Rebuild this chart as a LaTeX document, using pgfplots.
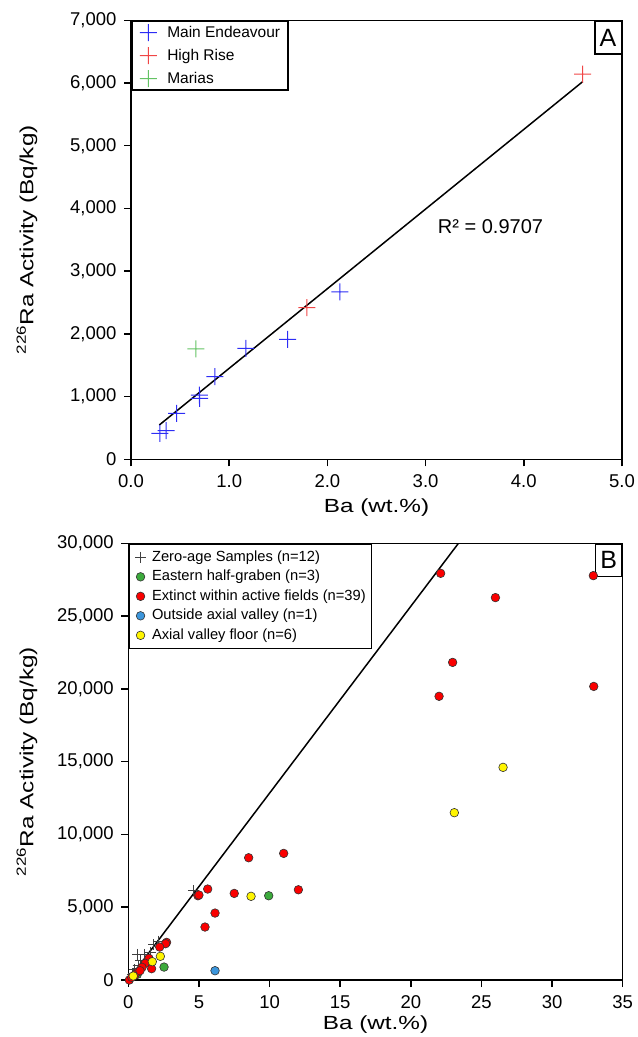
\documentclass[border=0pt]{standalone}
\usepackage{pgfplots}
\pgfplotsset{compat=1.18}
\usepackage{fontspec}
\setmainfont{Liberation Sans}

\definecolor{meblue}{RGB}{45,45,245}
\definecolor{hrred}{RGB}{240,70,70}
\definecolor{margreen}{RGB}{100,195,100}
\definecolor{egreen}{RGB}{60,170,60}
\definecolor{exred}{RGB}{250,0,0}
\definecolor{oblue}{RGB}{60,150,220}
\definecolor{ayellow}{RGB}{255,245,0}

% a plus sign built from two filled bars (strokes lose their colour here)
\pgfdeclareplotmark{fplus}{%
  \pgfpathrectangle{\pgfpoint{-\pgfplotmarksize}{-0.5bp}}{\pgfpoint{2\pgfplotmarksize}{1bp}}%
  \pgfpathrectangle{\pgfpoint{-0.5bp}{-\pgfplotmarksize}}{\pgfpoint{1bp}{2\pgfplotmarksize}}%
  \pgfusepathqfill}

\pgfplotsset{
  panel/.style={
    scale only axis, anchor=south west,
    tick align=outside, tick pos=left, major tick length=7bp,
    axis line style={line width=1.5bp},
    every tick/.style={black, line width=1.5bp},
    tick label style={font=\fontsize{18.5bp}{22bp}\selectfont},
    yticklabel style={xshift=-4bp},
    xticklabel style={yshift=-5bp},
    /pgf/number format/assume math mode=true,
    /pgf/number format/1000 sep={,},
    scaled ticks=false,
    legend cell align=left,
  },
  cross/.style={only marks, mark=fplus, mark size=8.5bp, color=#1,
    mark options={fill=#1, draw=none}},
}

\begin{document}
\begin{tikzpicture}[x=1bp,y=1bp]
\path[use as bounding box] (0,0) rectangle (638,-1037);

% ---- panel A
\begin{axis}[panel, at={(131bp,-459.3bp)}, width=491bp, height=439bp,
  xmin=0, xmax=5, ymin=0, ymax=7000,
  xtick={0,1,...,5}, ytick={0,1000,...,7000},
  xticklabel style={/pgf/number format/.cd, fixed, fixed zerofill, precision=1},
  xlabel={\scalebox{1.28}[1]{Ba (wt.\%)}},
  ylabel={\scalebox{1.28}[1]{\textsuperscript{226}Ra Activity (Bq/kg)}},
  every axis x label/.style={at={(axis description cs:0.5,-0.109)}, anchor=center,
    font=\fontsize{19bp}{23bp}\selectfont},
  every axis y label/.style={at={(axis description cs:-0.2118,0.5)}, rotate=90, anchor=center,
    font=\fontsize{19bp}{23bp}\selectfont},
  legend image code/.code={\draw[mark repeat=2,mark phase=2,#1]
    plot coordinates {(0bp,0bp) (8.5bp,0bp) (17bp,0bp)};},
  legend style={at={(0,1)}, anchor=north west, draw=black, line width=1.5bp,
    font=\fontsize{15.5bp}{18bp}\selectfont, inner xsep=8bp, inner ysep=3bp,
    nodes={inner sep=0pt, text height=13bp, text depth=3bp},
    row sep=6bp, /tikz/every odd column/.append style={column sep=10.5bp}},
]
\addplot[black, line width=1.5bp, forget plot] coordinates {(0.288,547) (4.60,6022)};
\addplot[cross=meblue] coordinates {
(0.295,415) (0.357,456) (0.465,733) (0.695,1025) (0.70,972) (0.855,1318)
(1.17,1770) (1.595,1913) (2.127,2668)};
\addplot[cross=hrred] coordinates {
(1.79,2418) (4.60,6140)};
\addplot[cross=margreen] coordinates {
(0.66,1760)};
\legend{Main Endeavour, High Rise, Marias}
\node[anchor=west, font=\fontsize{20bp}{24bp}\selectfont] at (axis cs:3.09,3710) {R² = 0.9707};
\node[draw, fill=white, line width=1.5bp, anchor=north east, inner sep=0pt,
  minimum width=26.5bp, minimum height=33bp, font=\fontsize{25bp}{30bp}\selectfont]
  at (rel axis cs:1,1) {A};
\end{axis}

% ---- panel B
\begin{axis}[panel, at={(128.3bp,-980bp)}, width=494.4bp, height=436.7bp,
  xmin=0, xmax=35, ymin=0, ymax=30000,
  xtick={0,5,...,35}, ytick={0,5000,...,30000},
  xlabel={\scalebox{1.28}[1]{Ba (wt.\%)}},
  ylabel={\scalebox{1.28}[1]{\textsuperscript{226}Ra Activity (Bq/kg)}},
  every axis x label/.style={at={(axis description cs:0.5,-0.103)}, anchor=center,
    font=\fontsize{19bp}{23bp}\selectfont},
  every axis y label/.style={at={(axis description cs:-0.2049,0.5)}, rotate=90, anchor=center,
    font=\fontsize{19bp}{23bp}\selectfont},
  legend image code/.code={\draw[mark repeat=2,mark phase=2,#1]
    plot coordinates {(0bp,0bp) (6bp,0bp) (12bp,0bp)};},
  legend style={at={(0,1)}, anchor=north west, draw=black, line width=1.5bp,
    font=\fontsize{14.7bp}{17bp}\selectfont, inner xsep=6bp, inner ysep=6bp,
    nodes={inner sep=0pt, text height=11bp, text depth=3.5bp},
    row sep=5bp, /tikz/every odd column/.append style={column sep=6bp}},
]
\addplot[black, line width=1.5bp, forget plot] coordinates {(0,0) (23.37,30000)};
\addplot[only marks, mark=+, mark size=5.5bp, black!75, mark options={line width=0.8bp}] coordinates {
(0.295,415) (0.357,456) (0.465,733) (0.695,1025) (0.70,972) (0.855,1318)
(1.17,1770) (1.595,1913) (2.127,2668) (1.79,2418) (4.60,6140) (0.66,1760)};
\addplot[only marks, mark=*, mark size=4.3bp, mark options={fill=egreen, draw=black!80, line width=0.6bp}] coordinates {
(9.94,5790) (2.53,890) (0.64,390)};
\addplot[only marks, mark=*, mark size=4.3bp, mark options={fill=exred, draw=black!80, line width=0.6bp}] coordinates {
(22.11,27940) (32.92,27780) (25.99,26270) (22.96,21820) (22.0,19490) (32.95,20170)
(8.52,8400) (11.0,8700) (5.62,6250) (4.93,5790) (5.0,5840) (7.5,5950) (12.04,6200)
(6.14,4600) (5.43,3640)
(2.71,2588) (2.64,2496) (2.22,2267) (1.46,1488) (1.20,1145) (0.97,870) (1.65,779)
(0.71,573) (0.47,344) (0.07,0) (0.83,641) (0.24,183)};
\addplot[only marks, mark=*, mark size=4.3bp, mark options={fill=oblue, draw=black!80, line width=0.6bp}] coordinates {
(6.14,640)};
\addplot[only marks, mark=*, mark size=4.3bp, mark options={fill=ayellow, draw=black!80, line width=0.6bp}] coordinates {
(26.53,14610) (23.08,11495) (8.69,5750) (2.27,1627) (1.70,1260) (0.35,275)};
\legend{Zero-age Samples (n=12), Eastern half-graben (n=3), Extinct within active fields (n=39),
  Outside axial valley (n=1), Axial valley floor (n=6)}
\node[draw, fill=white, line width=1.5bp, anchor=north east, inner sep=0pt,
  minimum width=26.7bp, minimum height=32.4bp, font=\fontsize{25bp}{30bp}\selectfont]
  at (rel axis cs:1,1) {B};
\end{axis}
\end{tikzpicture}
\end{document}
